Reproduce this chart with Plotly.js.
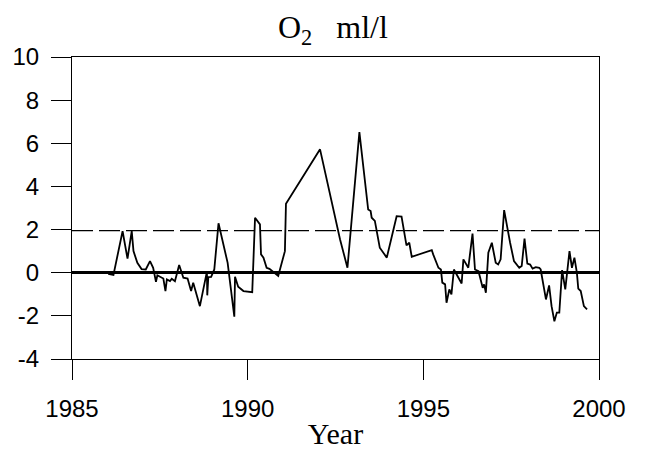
<!DOCTYPE html>
<html>
<head>
<meta charset="utf-8">
<script src="https://cdn.plot.ly/plotly-3.0.1.min.js"></script>
<style>html,body{margin:0;padding:0;background:#fff;}#chart{width:645px;height:454px;}</style>
</head>
<body>
<div id="chart"></div>
<script>
const years = [1986.03,1986.18,1986.44,1986.58,1986.70,1986.75,1986.86,1986.98,1987.10,1987.22,1987.31,1987.39,1987.43,1987.52,1987.60,1987.66,1987.70,1987.79,1987.84,1987.93,1988.05,1988.17,1988.29,1988.39,1988.45,1988.64,1988.84,1988.85,1988.88,1988.96,1989.05,1989.17,1989.31,1989.43,1989.62,1989.64,1989.73,1989.88,1990.13,1990.21,1990.35,1990.38,1990.45,1990.54,1990.62,1990.87,1991.06,1991.09,1992.06,1992.63,1992.84,1993.18,1993.43,1993.50,1993.53,1993.62,1993.76,1993.96,1994.24,1994.38,1994.52,1994.60,1994.67,1995.24,1995.28,1995.43,1995.50,1995.54,1995.62,1995.66,1995.74,1995.80,1995.87,1995.99,1996.09,1996.14,1996.28,1996.40,1996.47,1996.57,1996.69,1996.73,1996.78,1996.85,1996.95,1997.06,1997.13,1997.20,1997.30,1997.47,1997.58,1997.73,1997.80,1997.88,1997.96,1998.04,1998.11,1998.20,1998.30,1998.34,1998.42,1998.49,1998.58,1998.65,1998.73,1998.80,1998.87,1998.95,1999.04,1999.16,1999.23,1999.30,1999.37,1999.41,1999.48,1999.57,1999.66];
const o2Anomaly = [-0.05,-0.1,1.93,0.65,1.93,1.0,0.46,0.17,0.15,0.54,0.23,-0.42,-0.12,-0.2,-0.27,-0.85,-0.31,-0.39,-0.28,-0.39,0.36,-0.23,-0.27,-0.85,-0.46,-1.55,0.05,-1.05,-0.2,-0.19,0.15,2.29,1.23,0.46,-2.04,-0.19,-0.65,-0.85,-0.9,2.55,2.24,0.85,0.7,0.23,0.18,-0.15,1.0,3.2,5.72,1.54,0.23,6.52,2.93,2.86,2.55,2.4,1.16,0.7,2.62,2.6,1.27,1.39,0.74,1.05,0.85,0.23,0.15,-0.46,-0.54,-1.39,-0.77,-1.0,0.15,-0.19,-0.5,0.62,0.23,1.81,0.15,0.07,-0.7,-0.54,-0.93,0.93,1.39,0.46,0.38,0.62,2.9,1.39,0.54,0.23,0.31,1.58,0.42,0.38,0.19,0.26,0.23,0.15,-0.54,-1.24,-0.59,-1.55,-2.25,-1.85,-1.85,0.12,-0.77,1.0,0.23,0.7,0.0,-0.74,-0.85,-1.55,-1.7];
const refLevel = 1.95;
const xTicks = [1985, 1990, 1995, 2000];
const yTicks = [-4, -2, 0, 2, 4, 6, 8, 10];

const traces = [{
  x: years, y: o2Anomaly, type: 'scatter', mode: 'lines',
  line: {color: '#000', width: 1.8}, hoverinfo: 'skip'
}];

const layout = {
  width: 645, height: 454,
  margin: {l: 72, r: 46, t: 57, b: 95},
  paper_bgcolor: '#fff', plot_bgcolor: '#fff',
  showlegend: false,
  title: {
    text: 'O<sub>2</sub>\u00a0\u00a0\u00a0ml/l',
    font: {family: 'Liberation Serif, Times New Roman, serif', size: 32, color: '#000'},
    x: 0.495, xref: 'paper', y: 0.94, yref: 'container', yanchor: 'middle'
  },
  xaxis: {
    range: [1985, 2000], tickvals: xTicks, ticktext: xTicks.map(String),
    ticks: 'outside', ticklen: 20, tickwidth: 1, tickcolor: '#000',
    ticklabelstandoff: 8,
    showline: true, linecolor: '#000', linewidth: 1, mirror: true,
    showgrid: false, zeroline: false,
    tickfont: {family: 'Liberation Sans, Arial, sans-serif', size: 24, color: '#000'},
    title: {text: 'Year', font: {family: 'Liberation Serif, Times New Roman, serif', size: 30, color: '#000'}, standoff: 2}
  },
  yaxis: {
    range: [-4, 10], tickvals: yTicks, ticktext: yTicks.map(String),
    ticks: 'outside', ticklen: 20, tickwidth: 1, tickcolor: '#000',
    ticklabelstandoff: 7,
    showline: true, linecolor: '#000', linewidth: 1, mirror: true,
    showgrid: false,
    zeroline: true, zerolinecolor: '#000', zerolinewidth: 2.5,
    tickfont: {family: 'Liberation Sans, Arial, sans-serif', size: 24, color: '#000'}
  },
  shapes: [{
    type: 'line', xref: 'paper', x0: 0, x1: 1, yref: 'y', y0: refLevel, y1: refLevel,
    line: {color: '#000', width: 1.2, dash: '21px,6px'}, layer: 'below'
  }]
};

Plotly.newPlot('chart', traces, layout, {staticPlot: true, displayModeBar: false});
</script>
</body>
</html>
